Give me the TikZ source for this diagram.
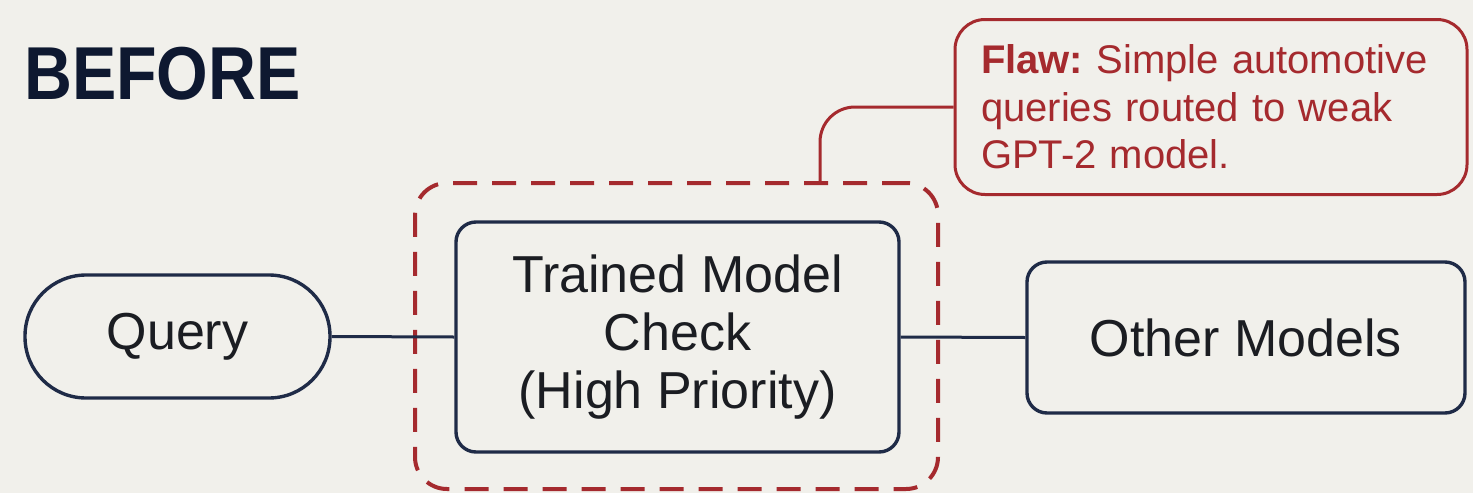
\documentclass[tikz,border=0pt]{standalone}
\usepackage{fontspec}
\setmainfont{Liberation Sans}
\frenchspacing
\definecolor{bg}{HTML}{F1F0EB}
\definecolor{navy}{HTML}{1F2B47}
\definecolor{ink}{HTML}{1B1D22}
\definecolor{titleink}{HTML}{0E1830}
\definecolor{flawred}{HTML}{A52A2E}
\tikzset{
  navybox/.style={draw=navy, line width=3.4pt, text=ink, align=center, inner sep=0pt,
    rounded corners=20pt, font=\fontsize{52}{58}\selectfont},
  pill/.style={navybox, rounded corners=61pt},
  zonebox/.style={draw=flawred, line width=4pt, dash pattern=on 24pt off 15pt, rounded corners=32pt, inner sep=0pt},
  flawbox/.style={draw=flawred, line width=3pt, text=flawred, align=left, rounded corners=30pt,
    inner ysep=0pt, font=\fontsize{40}{47.5}\selectfont},
  navyline/.style={draw=navy, line width=3pt},
  redline/.style={draw=flawred, line width=3pt},
  titletext/.style={text=titleink, inner sep=0pt, font=\fontsize{75}{80}\selectfont\bfseries}
}
\begin{document}
\begin{tikzpicture}[x=1pt,y=-1pt]
\fill[bg] (0,0) rectangle (1473,493);
\useasboundingbox (0,0) rectangle (1473,493);

\node[titletext, anchor=base west] (title) at (24,99) {\scalebox{0.885}[1]{BEFORE}};

\node[zonebox, minimum width=523pt, minimum height=306pt] (zone) at (676.5,336) {};

\node[pill, minimum width=305pt, minimum height=123pt] (query) at (177.5,336.5) {Query};
\node[navybox, minimum width=443pt, minimum height=230pt] (trained) at (677.5,337) {\raisebox{-3pt}{\parbox{400pt}{\centering Trained Model\\Check\\(High Priority)}}};
\node[navybox, minimum width=438pt, minimum height=151pt] (other) at (1246,337.5) {Other Models};

\node[flawbox, text width=460pt, inner xsep=26pt, minimum height=175pt] (flaw) at (1211,107)
  {\textbf{Flaw:} Simple automotive\\queries routed to weak\\GPT-2 model.};

\coordinate (fx) at (820,0);

\draw[navyline] (query.east) -- (trained.west);
\draw[navyline] (trained.east) -- (other.west);
\draw[redline, rounded corners=35pt] (flaw.west) -| (zone.north -| fx);
\end{tikzpicture}
\end{document}
